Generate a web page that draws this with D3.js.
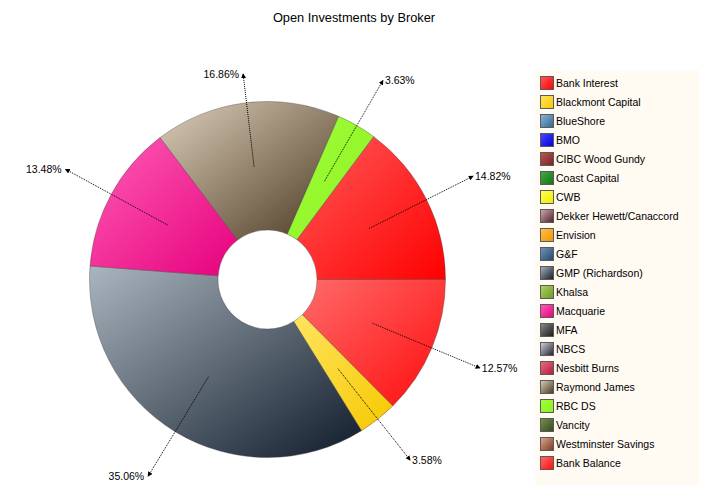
<!DOCTYPE html>
<html>
<head>
<meta charset="utf-8">
<script src="https://cdn.jsdelivr.net/npm/d3@7"></script>
<style>
  html, body { margin: 0; padding: 0; background: #fff; }
  svg { display: block; }
  text { font-family: "Liberation Sans", Arial, sans-serif; }
</style>
</head>
<body>
<svg id="chart" width="707" height="498"></svg>
<script>
// Brokers as listed in the legend
const brokers = [
  "Bank Interest", "Blackmont Capital", "BlueShore", "BMO", "CIBC Wood Gundy",
  "Coast Capital", "CWB", "Dekker Hewett/Canaccord", "Envision", "G&F",
  "GMP (Richardson)", "Khalsa", "Macquarie", "MFA", "NBCS", "Nesbitt Burns",
  "Raymond James", "RBC DS", "Vancity", "Westminster Savings", "Bank Balance"
];
// Share of open investments (%) per broker, same order as brokers
const shares = [
  14.82, 3.58, 0, 0, 0,
  0, 0, 0, 0, 0,
  35.06, 0, 13.48, 0, 0, 0,
  16.86, 3.63, 0, 0, 12.57
];
// Order in which the ring is drawn, clockwise from 3 o'clock
const ringOrder = [
  "Bank Balance", "Blackmont Capital", "GMP (Richardson)", "Macquarie",
  "Raymond James", "RBC DS", "Bank Interest"
];
const title = "Open Investments by Broker";

// Gradient stops per broker: [light corner, dark corner]
const palette = {
  "Bank Interest": ["#ff5a5a", "#ff0000"],
  "Blackmont Capital": ["#ffe460", "#f6c800"],
  "BlueShore": ["#8cb6d6", "#2f6690"],
  "BMO": ["#4a4aff", "#0000dc"],
  "CIBC Wood Gundy": ["#b85a5a", "#7a1e1e"],
  "Coast Capital": ["#44aa44", "#137313"],
  "CWB": ["#ffff55", "#eded00"],
  "Dekker Hewett/Canaccord": ["#d4aab2", "#4e2028"],
  "Envision": ["#ffc050", "#f09400"],
  "G&F": ["#6e96bc", "#24466c"],
  "GMP (Richardson)": ["#aab5bf", "#0f1b29"],
  "Khalsa": ["#b0d468", "#6a9a1e"],
  "Macquarie": ["#ff5eb6", "#e6007c"],
  "MFA": ["#8a8a8a", "#1a1a1a"],
  "NBCS": ["#d6d6e2", "#1c1c2c"],
  "Nesbitt Burns": ["#ec6c84", "#b01c3c"],
  "Raymond James": ["#ddcfbb", "#4a3820"],
  "RBC DS": ["#a0ff3c", "#8cf01e"],
  "Vancity": ["#7a9450", "#33481a"],
  "Westminster Savings": ["#e0a890", "#7a3820"],
  "Bank Balance": ["#ff6a6a", "#ff0c0c"]
};

const svg = d3.select("#chart");
const W = 707, H = 498;
const cx = 267.5, cy = 279.5;
const outerR = 178, innerR = 49.5;
const labelR = 230, labelTop = 74;

const defs = svg.append("defs");
const gradId = name => "g-" + brokers.indexOf(name);
brokers.forEach(name => {
  const g = defs.append("linearGradient")
    .attr("id", gradId(name))
    .attr("x1", 0).attr("y1", 0).attr("x2", 1).attr("y2", 1);
  g.append("stop").attr("offset", "0%").attr("stop-color", palette[name][0]);
  g.append("stop").attr("offset", "100%").attr("stop-color", palette[name][1]);
});
defs.append("marker")
  .attr("id", "arrow")
  .attr("viewBox", "0 0 6 6")
  .attr("refX", 5).attr("refY", 3)
  .attr("markerWidth", 5).attr("markerHeight", 5)
  .attr("markerUnits", "userSpaceOnUse")
  .attr("orient", "auto")
  .append("path").attr("d", "M0,0 L6,3 L0,6 Z").attr("fill", "#000");

// Title
svg.append("text")
  .attr("x", 354).attr("y", 22)
  .attr("text-anchor", "middle")
  .attr("font-size", "12.8px")
  .attr("fill", "#000")
  .text(title);

// Ring data
const value = name => shares[brokers.indexOf(name)];
const pie = d3.pie()
  .sort(null)
  .value(d => d.value)
  .startAngle(Math.PI / 2)
  .endAngle(Math.PI / 2 + 2 * Math.PI);
const arcs = pie(ringOrder.map(name => ({ name, value: value(name) })).filter(d => d.value > 0));

const arc = d3.arc().innerRadius(innerR).outerRadius(outerR);
const plot = svg.append("g").attr("transform", `translate(${cx},${cy})`);

plot.selectAll("path.slice")
  .data(arcs)
  .join("path")
  .attr("class", "slice")
  .attr("d", arc)
  .attr("fill", d => `url(#${gradId(d.data.name)})`)
  .attr("stroke", "rgba(70,60,60,0.55)")
  .attr("stroke-width", 0.7);

// Leader lines and percentage labels
const total = d3.sum(arcs, d => d.value);
const fmt = d3.format(".2f");
const labels = plot.append("g");
arcs.forEach(d => {
  const mid = (d.startAngle + d.endAngle) / 2;
  const [sx, sy] = arc.centroid(d);
  const dirx = Math.sin(mid), diry = -Math.cos(mid);
  let ex = dirx * labelR, ey = diry * labelR;
  const minY = labelTop - cy;
  if (ey < minY) {
    const t = minY / diry;
    ex = dirx * t; ey = minY;
  }
  labels.append("line")
    .attr("x1", sx).attr("y1", sy).attr("x2", ex).attr("y2", ey)
    .attr("stroke", "#000")
    .attr("stroke-width", 1)
    .attr("stroke-dasharray", "1,1")
    .attr("marker-end", "url(#arrow)");
  const right = ex >= 0;
  labels.append("text")
    .attr("x", right ? ex + 2 : ex - 4)
    .attr("y", ey)
    .attr("dy", "0.36em")
    .attr("text-anchor", right ? "start" : "end")
    .attr("font-size", "10.5px")
    .attr("fill", "#000")
    .text(fmt(d.value / total * 100) + "%");
});

// Legend
const legend = svg.append("g");
legend.append("rect")
  .attr("x", 535.5).attr("y", 70.5)
  .attr("width", 163.5).attr("height", 415)
  .attr("fill", "#fffaf2");

const rowY = d3.scalePoint()
  .domain(brokers)
  .range([83, 83 + 19 * (brokers.length - 1)]);

const rows = legend.selectAll("g.row")
  .data(brokers)
  .join("g")
  .attr("class", "row")
  .attr("transform", d => `translate(540,${rowY(d)})`);
rows.append("rect")
  .attr("x", 0.5).attr("y", -6.5)
  .attr("width", 13).attr("height", 13)
  .attr("fill", d => `url(#${gradId(d)})`)
  .attr("stroke", "#5a5a5a")
  .attr("stroke-width", 1);
rows.append("text")
  .attr("x", 16).attr("y", 0)
  .attr("dy", "0.36em")
  .attr("font-size", "10.5px")
  .attr("fill", "#000")
  .text(d => d);
</script>
</body>
</html>
